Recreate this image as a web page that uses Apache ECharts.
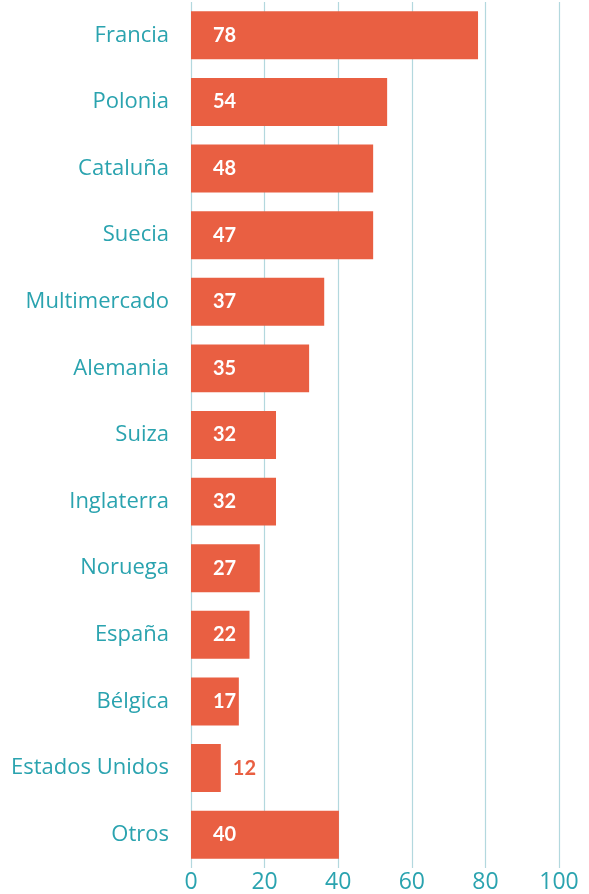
<!DOCTYPE html>
<html><head><meta charset="utf-8">
<script src="https://cdn.jsdelivr.net/npm/echarts@6/dist/echarts.min.js"></script>
<style>html,body{margin:0;padding:0;background:#fff}#c{width:589px;height:894px}</style>
</head><body><div id="c"></div>
<script>
const categories = ['Francia','Polonia','Cataluña','Suecia','Multimercado','Alemania','Suiza','Inglaterra','Noruega','España','Bélgica','Estados Unidos','Otros'];
const barValues = [78, 53.3, 49.5, 49.5, 36.2, 32.1, 23.1, 23.1, 18.7, 15.9, 13.0, 8.1, 40.2];
const labelValues = [78, 54, 48, 47, 37, 35, 32, 32, 27, 22, 17, 12, 40];
const outsideLabels = ['Estados Unidos'];
const xTicks = [0, 20, 40, 60, 80, 100];

const BAR = '#E95F42', TEAL = '#2AA3AF', GRID = '#B3D8DE';
const chart = echarts.init(document.getElementById('c'), null, {renderer:'canvas'});
const data = categories.map((c, i) => {
  const outside = outsideLabels.includes(c);
  return {
    value: barValues[i],
    label: outside ? {position:'right', distance:12, color: BAR} : {}
  };
});
chart.setOption({
  animation: false,
  grid: {left: 191, right: 30, top: 2, bottom: 25, containLabel: false},
  xAxis: {
    type: 'value', min: xTicks[0], max: xTicks[xTicks.length-1], interval: 20,
    axisLine: {show:false}, axisTick: {show:false},
    splitLine: {show:true, lineStyle:{color: GRID, width: 1.2}},
    axisLabel: {color: TEAL, fontSize: 23, fontFamily: 'Open Sans', margin: 3}
  },
  yAxis: {
    type: 'category', data: categories, inverse: true,
    axisLine: {show:false}, axisTick: {show:false},
    axisLabel: {color: TEAL, fontSize: 22, fontFamily: 'Open Sans', margin: 22}
  },
  series: [{
    type: 'bar', data: data, barCategoryGap: '28%',
    itemStyle: {color: BAR},
    label: {
      show: true, position: 'insideLeft', distance: 22,
      color: '#fff', fontSize: 20, fontWeight: 'bold', fontFamily: 'Lato',
      formatter: p => String(labelValues[p.dataIndex])
    }
  }]
});
</script></body></html>
